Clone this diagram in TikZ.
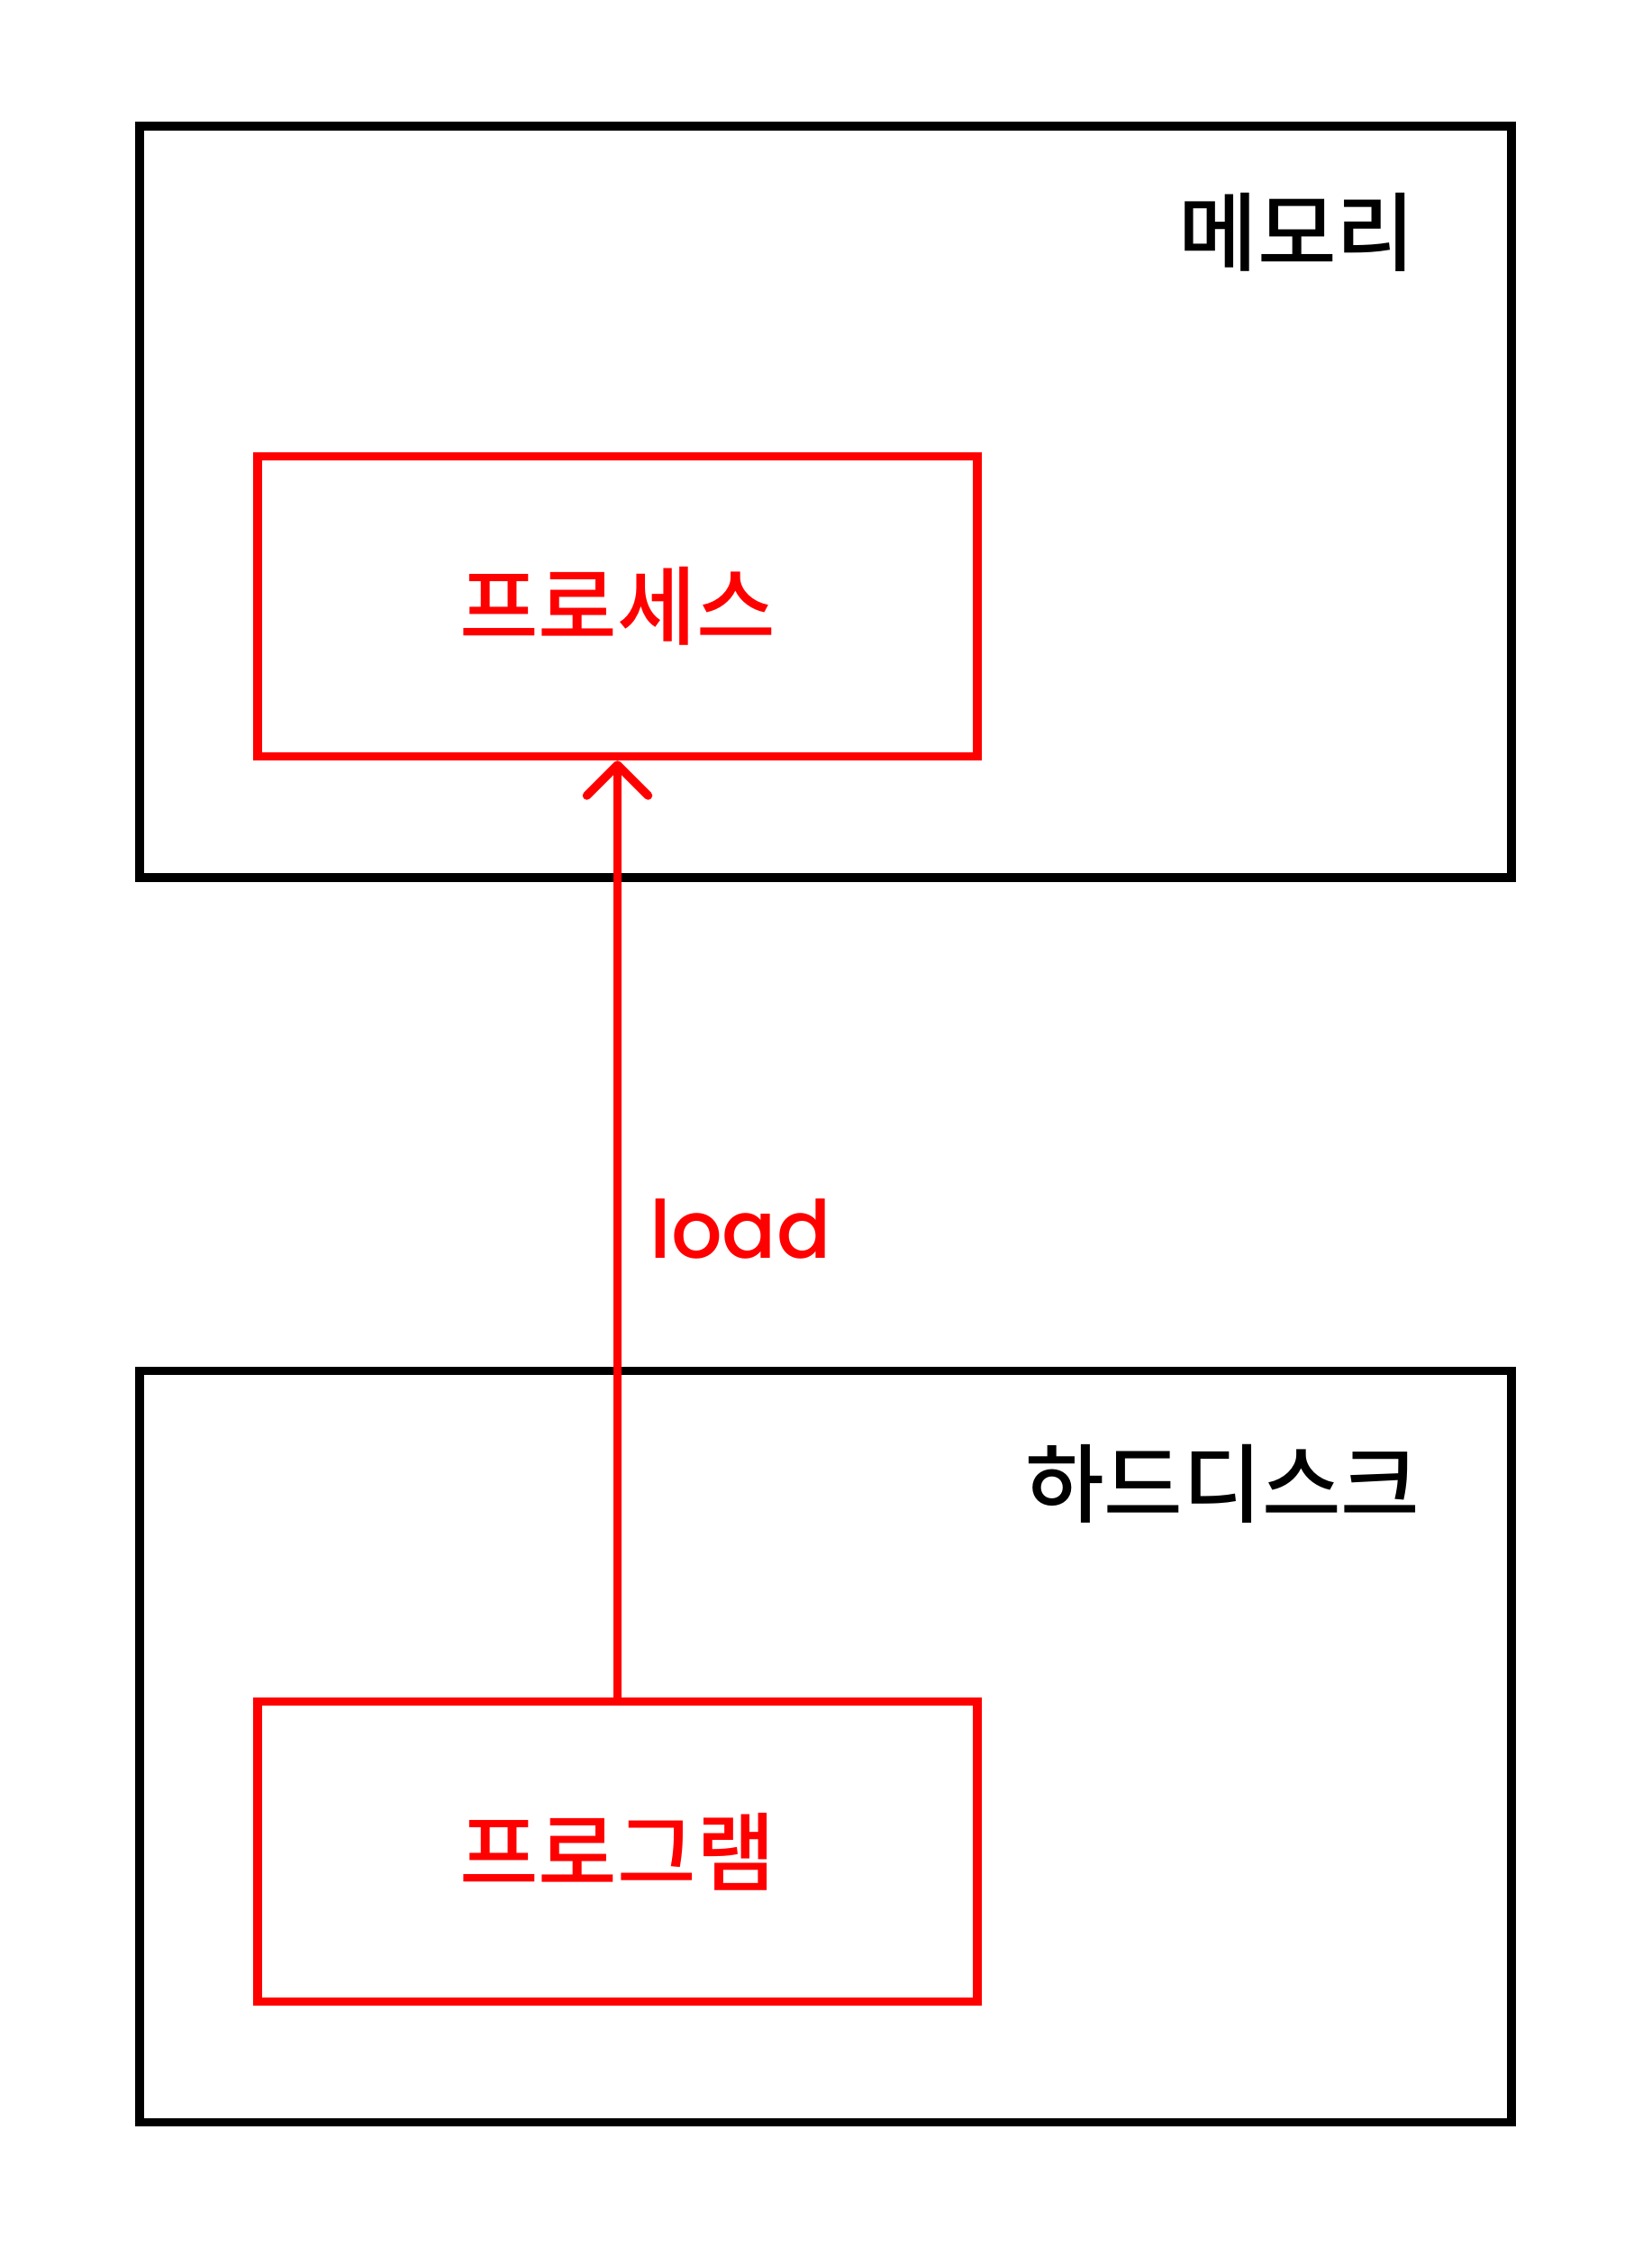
\documentclass[tikz,border=0pt]{standalone}
\usepackage{fontspec}
\newfontfamily\kofont{Noto Sans CJK KR Medium}
\newfontfamily\loadfont{Poppins Medium}
\usetikzlibrary{arrows.meta}
\tikzset{
	outerbox/.style={draw=black, line width=0.95mm, minimum width=15.23cm, minimum height=8.34cm, inner sep=0},
	redbox/.style={draw=red, line width=0.95mm, minimum width=7.99cm, minimum height=3.33cm, inner sep=0, text=red, font=\kofont\fontsize{27.1}{32}\selectfont},
	boxlabel/.style={anchor=east, inner sep=0, font=\kofont\fontsize{27.1}{32}\selectfont},
}

\begin{document}
\begin{tikzpicture}
			%%%%% START %%%%%
			\useasboundingbox (0, 0) rectangle (18.33, -24.95);
			
			\node[outerbox] (memory) at (9.165, -5.57) {};
			\node[boxlabel] (memorylabel) at (15.72, -2.58) {메모리};
			\node[redbox] (process) at (6.855, -6.73) {프로세스};
			
			\node[outerbox] (disk) at (9.165, -19.385) {};
			\node[boxlabel] (disklabel) at (15.77, -16.47) {하드디스크};
			\node[redbox] (program) at (6.855, -20.55) {프로그램};
			
			\draw[line width=0.95mm, red, -{Straight Barb[length=3.4mm, width=6.8mm, round]}] (program.north) -- node[midway, anchor=west, inner sep=0, xshift=0.315cm, text=red, font=\loadfont\fontsize{25.3}{30}\selectfont] (load) {load} (process.south);
			
			%%%%% END %%%%%
\end{tikzpicture}
\end{document}
